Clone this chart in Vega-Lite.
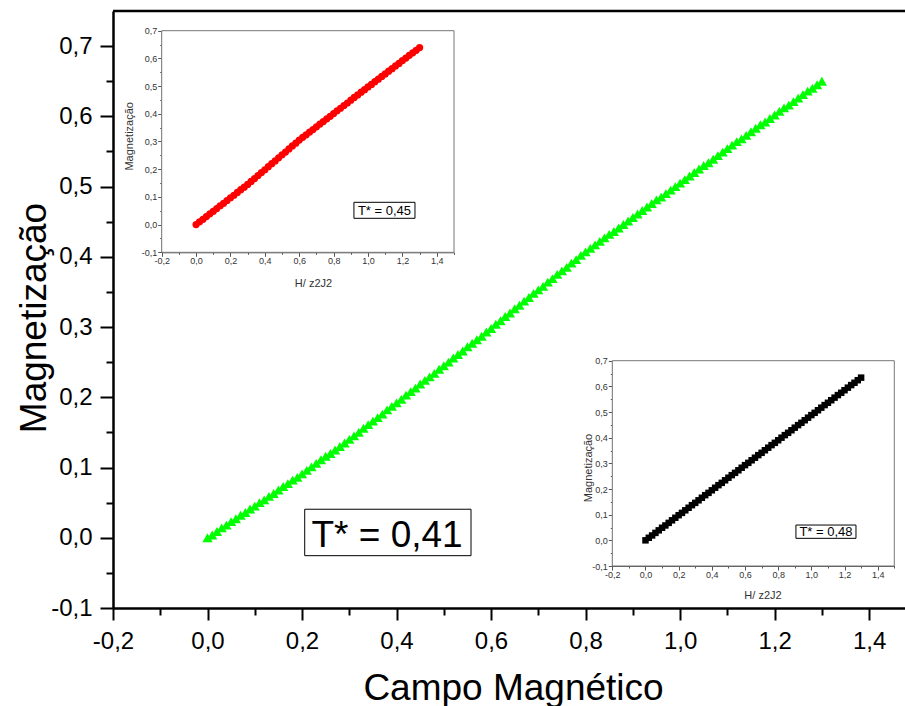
{
"$schema": "https://vega.github.io/schema/vega-lite/v6.json",
"autosize": "none",
"padding": {"left": 113, "top": 11, "right": 0, "bottom": 98},
"width": 792,
"height": 597,
"background": "white",
"config": {"view": {"stroke": null}, "font": "Liberation Sans", "axis": {"grid": false, "titleFontWeight": "normal", "labelOverlap": false, "labelFlush": false, "zindex": 1, "labelFont": "Liberation Sans", "titleFont": "Liberation Sans"}},
"datasets": {
"green": [
{"H":0.00,"M":0.000},{"H":0.01,"M":0.004},{"H":0.02,"M":0.009},{"H":0.03,"M":0.014},{"H":0.04,"M":0.018},{"H":0.05,"M":0.023},{"H":0.06,"M":0.027},{"H":0.07,"M":0.032},{"H":0.08,"M":0.036},{"H":0.09,"M":0.041},
{"H":0.10,"M":0.045},{"H":0.11,"M":0.050},{"H":0.12,"M":0.054},{"H":0.13,"M":0.059},{"H":0.14,"M":0.063},{"H":0.15,"M":0.068},{"H":0.16,"M":0.073},{"H":0.17,"M":0.077},{"H":0.18,"M":0.082},{"H":0.19,"M":0.086},
{"H":0.20,"M":0.091},{"H":0.21,"M":0.096},{"H":0.22,"M":0.101},{"H":0.23,"M":0.106},{"H":0.24,"M":0.111},{"H":0.25,"M":0.116},{"H":0.26,"M":0.120},{"H":0.27,"M":0.125},{"H":0.28,"M":0.130},{"H":0.29,"M":0.135},
{"H":0.30,"M":0.140},{"H":0.31,"M":0.145},{"H":0.32,"M":0.150},{"H":0.33,"M":0.156},{"H":0.34,"M":0.161},{"H":0.35,"M":0.166},{"H":0.36,"M":0.171},{"H":0.37,"M":0.176},{"H":0.38,"M":0.182},{"H":0.39,"M":0.187},
{"H":0.40,"M":0.192},{"H":0.41,"M":0.197},{"H":0.42,"M":0.203},{"H":0.43,"M":0.208},{"H":0.44,"M":0.213},{"H":0.45,"M":0.219},{"H":0.46,"M":0.224},{"H":0.47,"M":0.229},{"H":0.48,"M":0.234},{"H":0.49,"M":0.240},
{"H":0.50,"M":0.245},{"H":0.51,"M":0.250},{"H":0.52,"M":0.256},{"H":0.53,"M":0.261},{"H":0.54,"M":0.266},{"H":0.55,"M":0.272},{"H":0.56,"M":0.277},{"H":0.57,"M":0.282},{"H":0.58,"M":0.287},{"H":0.59,"M":0.293},
{"H":0.60,"M":0.298},{"H":0.61,"M":0.304},{"H":0.62,"M":0.309},{"H":0.63,"M":0.315},{"H":0.64,"M":0.320},{"H":0.65,"M":0.326},{"H":0.66,"M":0.331},{"H":0.67,"M":0.337},{"H":0.68,"M":0.342},{"H":0.69,"M":0.348},
{"H":0.70,"M":0.353},{"H":0.71,"M":0.358},{"H":0.72,"M":0.364},{"H":0.73,"M":0.369},{"H":0.74,"M":0.375},{"H":0.75,"M":0.380},{"H":0.76,"M":0.385},{"H":0.77,"M":0.391},{"H":0.78,"M":0.396},{"H":0.79,"M":0.402},
{"H":0.80,"M":0.407},{"H":0.81,"M":0.412},{"H":0.82,"M":0.417},{"H":0.83,"M":0.422},{"H":0.84,"M":0.427},{"H":0.85,"M":0.432},{"H":0.86,"M":0.436},{"H":0.87,"M":0.441},{"H":0.88,"M":0.446},{"H":0.89,"M":0.451},
{"H":0.90,"M":0.456},{"H":0.91,"M":0.461},{"H":0.92,"M":0.466},{"H":0.93,"M":0.471},{"H":0.94,"M":0.476},{"H":0.95,"M":0.481},{"H":0.96,"M":0.485},{"H":0.97,"M":0.490},{"H":0.98,"M":0.495},{"H":0.99,"M":0.500},
{"H":1.00,"M":0.505},{"H":1.01,"M":0.510},{"H":1.02,"M":0.515},{"H":1.03,"M":0.520},{"H":1.04,"M":0.525},{"H":1.05,"M":0.530},{"H":1.06,"M":0.534},{"H":1.07,"M":0.539},{"H":1.08,"M":0.544},{"H":1.09,"M":0.549},
{"H":1.10,"M":0.554},{"H":1.11,"M":0.559},{"H":1.12,"M":0.564},{"H":1.13,"M":0.568},{"H":1.14,"M":0.573},{"H":1.15,"M":0.578},{"H":1.16,"M":0.583},{"H":1.17,"M":0.588},{"H":1.18,"M":0.592},{"H":1.19,"M":0.597},
{"H":1.20,"M":0.602},{"H":1.21,"M":0.607},{"H":1.22,"M":0.612},{"H":1.23,"M":0.616},{"H":1.24,"M":0.621},{"H":1.25,"M":0.626},{"H":1.26,"M":0.631},{"H":1.27,"M":0.636},{"H":1.28,"M":0.640},{"H":1.29,"M":0.645},
{"H":1.30,"M":0.650}
],
"red": [
{"H":0.00,"M":0.000},{"H":0.02,"M":0.010},{"H":0.04,"M":0.019},{"H":0.06,"M":0.029},{"H":0.08,"M":0.039},{"H":0.10,"M":0.048},{"H":0.12,"M":0.058},{"H":0.14,"M":0.068},{"H":0.16,"M":0.077},{"H":0.18,"M":0.087},
{"H":0.20,"M":0.097},{"H":0.22,"M":0.106},{"H":0.24,"M":0.116},{"H":0.26,"M":0.126},{"H":0.28,"M":0.135},{"H":0.30,"M":0.145},{"H":0.32,"M":0.156},{"H":0.34,"M":0.166},{"H":0.36,"M":0.177},{"H":0.38,"M":0.188},
{"H":0.40,"M":0.198},{"H":0.42,"M":0.209},{"H":0.44,"M":0.220},{"H":0.46,"M":0.230},{"H":0.48,"M":0.241},{"H":0.50,"M":0.252},{"H":0.52,"M":0.262},{"H":0.54,"M":0.273},{"H":0.56,"M":0.284},{"H":0.58,"M":0.294},
{"H":0.60,"M":0.305},{"H":0.62,"M":0.315},{"H":0.64,"M":0.324},{"H":0.66,"M":0.334},{"H":0.68,"M":0.343},{"H":0.70,"M":0.353},{"H":0.72,"M":0.363},{"H":0.74,"M":0.372},{"H":0.76,"M":0.382},{"H":0.78,"M":0.391},
{"H":0.80,"M":0.401},{"H":0.82,"M":0.411},{"H":0.84,"M":0.420},{"H":0.86,"M":0.430},{"H":0.88,"M":0.439},{"H":0.90,"M":0.449},{"H":0.92,"M":0.459},{"H":0.94,"M":0.468},{"H":0.96,"M":0.478},{"H":0.98,"M":0.487},
{"H":1.00,"M":0.497},{"H":1.02,"M":0.506},{"H":1.04,"M":0.516},{"H":1.06,"M":0.525},{"H":1.08,"M":0.535},{"H":1.10,"M":0.544},{"H":1.12,"M":0.554},{"H":1.14,"M":0.563},{"H":1.16,"M":0.573},{"H":1.18,"M":0.582},
{"H":1.20,"M":0.592},{"H":1.22,"M":0.601},{"H":1.24,"M":0.611},{"H":1.26,"M":0.620},{"H":1.28,"M":0.629},{"H":1.30,"M":0.639}
],
"black": [
{"H":0.00,"M":0.000},{"H":0.02,"M":0.010},{"H":0.04,"M":0.019},{"H":0.06,"M":0.029},{"H":0.08,"M":0.039},{"H":0.10,"M":0.049},{"H":0.12,"M":0.058},{"H":0.14,"M":0.068},{"H":0.16,"M":0.078},{"H":0.18,"M":0.088},
{"H":0.20,"M":0.098},{"H":0.22,"M":0.107},{"H":0.24,"M":0.117},{"H":0.26,"M":0.127},{"H":0.28,"M":0.137},{"H":0.30,"M":0.146},{"H":0.32,"M":0.156},{"H":0.34,"M":0.166},{"H":0.36,"M":0.176},{"H":0.38,"M":0.185},
{"H":0.40,"M":0.195},{"H":0.42,"M":0.205},{"H":0.44,"M":0.215},{"H":0.46,"M":0.224},{"H":0.48,"M":0.234},{"H":0.50,"M":0.244},{"H":0.52,"M":0.254},{"H":0.54,"M":0.263},{"H":0.56,"M":0.273},{"H":0.58,"M":0.283},
{"H":0.60,"M":0.293},{"H":0.62,"M":0.302},{"H":0.64,"M":0.312},{"H":0.66,"M":0.322},{"H":0.68,"M":0.332},{"H":0.70,"M":0.341},{"H":0.72,"M":0.351},{"H":0.74,"M":0.361},{"H":0.76,"M":0.371},{"H":0.78,"M":0.380},
{"H":0.80,"M":0.390},{"H":0.82,"M":0.400},{"H":0.84,"M":0.410},{"H":0.86,"M":0.419},{"H":0.88,"M":0.429},{"H":0.90,"M":0.439},{"H":0.92,"M":0.449},{"H":0.94,"M":0.458},{"H":0.96,"M":0.468},{"H":0.98,"M":0.478},
{"H":1.00,"M":0.488},{"H":1.02,"M":0.497},{"H":1.04,"M":0.507},{"H":1.06,"M":0.517},{"H":1.08,"M":0.527},{"H":1.10,"M":0.536},{"H":1.12,"M":0.546},{"H":1.14,"M":0.556},{"H":1.16,"M":0.566},{"H":1.18,"M":0.575},
{"H":1.20,"M":0.585},{"H":1.22,"M":0.595},{"H":1.24,"M":0.605},{"H":1.26,"M":0.614},{"H":1.28,"M":0.624},{"H":1.30,"M":0.634}
]
},
"resolve": {"scale": {"x": "independent", "y": "independent"}, "axis": {"x": "independent", "y": "independent"}},
"layer": [
{
"data": {"name": "green"},
"mark": {"type": "point", "shape": "triangle-up", "filled": true, "size": 105, "color": "#00ff00", "opacity": 1},
"encoding": {
"x": {"field": "H", "type": "quantitative",
"scale": {"domain": [-0.2, 1.476], "nice": false, "zero": false},
"axis": {"orient": "bottom", "values": [-0.2,-0.1,0,0.1,0.2,0.3,0.4,0.5,0.6,0.7,0.8,0.9,1.0,1.1,1.2,1.3,1.4],
"labelExpr": "round(datum.value*10)%2==0 ? replace(replace(format(datum.value,'.1f'),'.',','),'−','-') : ''",
"tickSize": {"condition": {"test": "round(datum.value*10)%2==0", "value": 12}, "value": 7},
"tickWidth": 2, "tickColor": "black", "domainColor": "black", "domainWidth": 2.5,
"labelFontSize": 24, "labelColor": "black", "labelPadding": 9,
"title": "Campo Magnético", "titleFontSize": 37, "titleColor": "black",
"titleX": 400, "titleY": 91, "titleBaseline": "alphabetic", "titleAlign": "center"}},
"y": {"field": "M", "type": "quantitative",
"scale": {"domain": [-0.1, 0.75], "nice": false, "zero": false},
"axis": {"orient": "left", "values": [-0.1,-0.05,0,0.05,0.1,0.15,0.2,0.25,0.3,0.35,0.4,0.45,0.5,0.55,0.6,0.65,0.7],
"labelExpr": "round(datum.value*20)%2==0 ? replace(replace(format(datum.value,'.1f'),'.',','),'−','-') : ''",
"tickSize": {"condition": {"test": "round(datum.value*20)%2==0", "value": 13}, "value": 7},
"tickWidth": 2, "tickColor": "black", "domainColor": "black", "domainWidth": 2.5,
"labelFontSize": 24, "labelColor": "black", "labelPadding": 8,
"title": "Magnetização", "titleFontSize": 37, "titleColor": "black",
"titleX": -67.5, "titleY": 306.5, "titleAngle": -90, "titleBaseline": "alphabetic", "titleAlign": "center"}}
}
},
{
"data": {"values": [{}]},
"mark": {"type": "rule", "color": "black", "strokeWidth": 2.5},
"encoding": {"x": {"datum": -0.2, "type": "quantitative", "scale": {"domain": [-0.2, 1.476], "nice": false, "zero": false}, "axis": null}, "x2": {"datum": 1.476}, "y": {"datum": 0.75, "type": "quantitative", "scale": {"domain": [-0.1, 0.75], "nice": false, "zero": false}, "axis": null}}
},
{
"data": {"values": [{}]},
"mark": {"type": "rect", "fill": "white", "stroke": "black", "strokeWidth": 1},
"encoding": {"x": {"datum": 0.2057, "type": "quantitative", "scale": {"domain": [-0.2, 1.476], "nice": false, "zero": false}, "axis": null}, "x2": {"datum": 0.5576}, "y": {"datum": 0.0406, "type": "quantitative", "scale": {"domain": [-0.1, 0.75], "nice": false, "zero": false}, "axis": null}, "y2": {"datum": -0.0255}}
},
{
"data": {"values": [{}]},
"mark": {"type": "text", "text": "T* = 0,41", "font": "Liberation Sans", "fontSize": 37, "align": "center", "baseline": "alphabetic", "color": "black"},
"encoding": {"x": {"datum": 0.38, "type": "quantitative", "scale": {"domain": [-0.2, 1.476], "nice": false, "zero": false}, "axis": null}, "y": {"datum": -0.0135, "type": "quantitative", "scale": {"domain": [-0.1, 0.75], "nice": false, "zero": false}, "axis": null}}
},
{
"data": {"values": [{}]},
"mark": {"type": "rect", "fill": "white", "stroke": "#777777", "strokeWidth": 1},
"encoding": {"x": {"datum": -0.2, "type": "quantitative", "scale": {"domain": [-0.2, 1.5], "range": [48.7, 341], "nice": false, "zero": false}, "axis": null}, "x2": {"datum": 1.5}, "y": {"datum": -0.1, "type": "quantitative", "scale": {"domain": [-0.1, 0.7], "range": [241.3, 19.7], "nice": false, "zero": false}, "axis": null}, "y2": {"datum": 0.7}}
},
{
"data": {"name": "red"},
"mark": {"type": "circle", "size": 52, "color": "#ff0000", "opacity": 1},
"encoding": {
"x": {"field": "H", "type": "quantitative",
"scale": {"domain": [-0.2, 1.5], "range": [48.7, 341], "nice": false, "zero": false},
"axis": {"orient": "bottom", "offset": -355.7, "values": [-0.2,-0.1,0,0.1,0.2,0.3,0.4,0.5,0.6,0.7,0.8,0.9,1.0,1.1,1.2,1.3,1.4,1.5],
"labelExpr": "round(datum.value*10)%2==0 && datum.value < 1.45 ? replace(replace(format(datum.value,'.1f'),'.',','),'−','-') : ''",
"tickSize": {"condition": {"test": "round(datum.value*10)%2==0", "value": 4}, "value": 2},
"tickWidth": 1, "tickColor": "#555555", "domainColor": "#555555", "domainWidth": 1,
"labelFontSize": 9, "labelColor": "#333333", "labelPadding": 0,
"title": "H/ z2J2", "titleFontSize": 11, "titleColor": "#333333",
"titleX": 200, "titleY": 34.4, "titleBaseline": "alphabetic", "titleAlign": "center"}},
"y": {"field": "M", "type": "quantitative",
"scale": {"domain": [-0.1, 0.7], "range": [241.3, 19.7], "nice": false, "zero": false},
"axis": {"orient": "left", "offset": -48.7, "values": [-0.1,-0.05,0,0.05,0.1,0.15,0.2,0.25,0.3,0.35,0.4,0.45,0.5,0.55,0.6,0.65,0.7],
"labelExpr": "round(datum.value*20)%2==0 ? replace(replace(format(datum.value,'.1f'),'.',','),'−','-') : ''",
"tickSize": {"condition": {"test": "round(datum.value*20)%2==0", "value": 4}, "value": 2},
"tickWidth": 1, "tickColor": "#555555", "domainColor": "#555555", "domainWidth": 1,
"labelFontSize": 9, "labelColor": "#333333", "labelPadding": 1,
"title": "Magnetização", "titleFontSize": 11, "titleColor": "#333333",
"titleX": -29, "titleY": 124.8, "titleAngle": -90, "titleBaseline": "alphabetic", "titleAlign": "center"}}
}
},
{
"data": {"values": [{}]},
"mark": {"type": "rect", "fill": "white", "stroke": "black", "strokeWidth": 1},
"encoding": {"x": {"datum": 0.918, "type": "quantitative", "scale": {"domain": [-0.2, 1.5], "range": [48.7, 341], "nice": false, "zero": false}, "axis": null}, "x2": {"datum": 1.273}, "y": {"datum": 0.0805, "type": "quantitative", "scale": {"domain": [-0.1, 0.7], "range": [241.3, 19.7], "nice": false, "zero": false}, "axis": null}, "y2": {"datum": 0.0227}}
},
{
"data": {"values": [{}]},
"mark": {"type": "text", "text": "T* = 0,45", "font": "Liberation Sans", "fontSize": 13, "align": "center", "baseline": "alphabetic", "color": "black"},
"encoding": {"x": {"datum": 1.0957, "type": "quantitative", "scale": {"domain": [-0.2, 1.5], "range": [48.7, 341], "nice": false, "zero": false}, "axis": null}, "y": {"datum": 0.0347, "type": "quantitative", "scale": {"domain": [-0.1, 0.7], "range": [241.3, 19.7], "nice": false, "zero": false}, "axis": null}}
},
{
"data": {"values": [{}]},
"mark": {"type": "rect", "fill": "white", "stroke": "#777777", "strokeWidth": 1},
"encoding": {"x": {"datum": -0.2, "type": "quantitative", "scale": {"domain": [-0.2, 1.5], "range": [499.3, 781.3], "nice": false, "zero": false}, "axis": null}, "x2": {"datum": 1.5}, "y": {"datum": -0.1, "type": "quantitative", "scale": {"domain": [-0.1, 0.7], "range": [555, 349.7], "nice": false, "zero": false}, "axis": null}, "y2": {"datum": 0.7}}
},
{
"data": {"name": "black"},
"mark": {"type": "square", "size": 42, "color": "#000000", "opacity": 1},
"encoding": {
"x": {"field": "H", "type": "quantitative",
"scale": {"domain": [-0.2, 1.5], "range": [499.3, 781.3], "nice": false, "zero": false},
"axis": {"orient": "bottom", "offset": -42, "values": [-0.2,-0.1,0,0.1,0.2,0.3,0.4,0.5,0.6,0.7,0.8,0.9,1.0,1.1,1.2,1.3,1.4,1.5],
"labelExpr": "round(datum.value*10)%2==0 && datum.value < 1.45 ? replace(replace(format(datum.value,'.1f'),'.',','),'−','-') : ''",
"tickSize": {"condition": {"test": "round(datum.value*10)%2==0", "value": 4}, "value": 2},
"tickWidth": 1, "tickColor": "#555555", "domainColor": "#555555", "domainWidth": 1,
"labelFontSize": 9, "labelColor": "#333333", "labelPadding": 0,
"title": "H/ z2J2", "titleFontSize": 11, "titleColor": "#333333",
"titleX": 649.5, "titleY": 32, "titleBaseline": "alphabetic", "titleAlign": "center"}},
"y": {"field": "M", "type": "quantitative",
"scale": {"domain": [-0.1, 0.7], "range": [555, 349.7], "nice": false, "zero": false},
"axis": {"orient": "left", "offset": -499.3, "values": [-0.1,-0.05,0,0.05,0.1,0.15,0.2,0.25,0.3,0.35,0.4,0.45,0.5,0.55,0.6,0.65,0.7],
"labelExpr": "round(datum.value*20)%2==0 ? replace(replace(format(datum.value,'.1f'),'.',','),'−','-') : ''",
"tickSize": {"condition": {"test": "round(datum.value*20)%2==0", "value": 4}, "value": 2},
"tickWidth": 1, "tickColor": "#555555", "domainColor": "#555555", "domainWidth": 1,
"labelFontSize": 9, "labelColor": "#333333", "labelPadding": 1,
"title": "Magnetização", "titleFontSize": 11, "titleColor": "#333333",
"titleX": -21.3, "titleY": 456.5, "titleAngle": -90, "titleBaseline": "alphabetic", "titleAlign": "center"}}
}
},
{
"data": {"values": [{}]},
"mark": {"type": "rect", "fill": "white", "stroke": "black", "strokeWidth": 1},
"encoding": {"x": {"datum": 0.907, "type": "quantitative", "scale": {"domain": [-0.2, 1.5], "range": [499.3, 781.3], "nice": false, "zero": false}, "axis": null}, "x2": {"datum": 1.269}, "y": {"datum": 0.0596, "type": "quantitative", "scale": {"domain": [-0.1, 0.7], "range": [555, 349.7], "nice": false, "zero": false}, "axis": null}, "y2": {"datum": 0.0078}}
},
{
"data": {"values": [{}]},
"mark": {"type": "text", "text": "T* = 0,48", "font": "Liberation Sans", "fontSize": 13, "align": "center", "baseline": "alphabetic", "color": "black"},
"encoding": {"x": {"datum": 1.088, "type": "quantitative", "scale": {"domain": [-0.2, 1.5], "range": [499.3, 781.3], "nice": false, "zero": false}, "axis": null}, "y": {"datum": 0.0168, "type": "quantitative", "scale": {"domain": [-0.1, 0.7], "range": [555, 349.7], "nice": false, "zero": false}, "axis": null}}
}
]
}
